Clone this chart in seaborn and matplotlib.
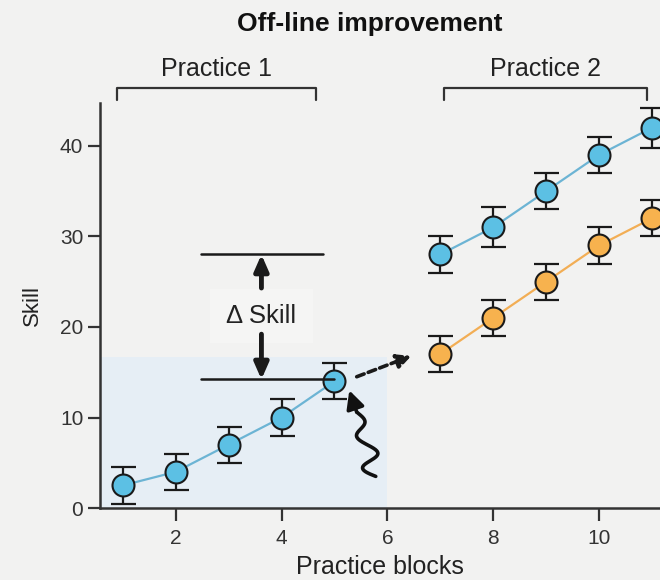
import numpy as np
import pandas as pd
import matplotlib
matplotlib.use("Agg")
import matplotlib.pyplot as plt
from matplotlib.patches import Rectangle
import seaborn as sns

# ---- data ----
blocks_p1 = [1, 2, 3, 4, 5]
skill_p1 = [2.5, 4.0, 7.0, 10.0, 14.0]
err_p1 = [2.0, 2.0, 2.0, 2.0, 2.0]

blocks_p2 = [7, 8, 9, 10, 11]
skill_p2_blue = [28.0, 31.0, 35.0, 39.0, 42.0]
err_p2_blue = [2.0, 2.2, 2.0, 2.0, 2.2]
skill_p2_orange = [17.0, 21.0, 25.0, 29.0, 32.0]
err_p2_orange = [2.0, 2.0, 2.0, 2.0, 2.0]

xticks = [2, 4, 6, 8, 10]
yticks = [0, 10, 20, 30, 40]

BLUE_FILL = "#5cc0e4"
BLUE_LINE = "#6cb4d4"
ORANGE_FILL = "#f7b24e"
ORANGE_LINE = "#f2ae55"

df = pd.concat([
    pd.DataFrame({"block": blocks_p1, "skill": skill_p1, "err": err_p1, "series": "p1"}),
    pd.DataFrame({"block": blocks_p2, "skill": skill_p2_blue, "err": err_p2_blue, "series": "p2b"}),
    pd.DataFrame({"block": blocks_p2, "skill": skill_p2_orange, "err": err_p2_orange, "series": "p2o"}),
])

sns.set_theme(style="ticks")
plt.rcParams["font.family"] = ["Liberation Sans", "DejaVu Sans"]

BG = "#f2f2f1"
fig = plt.figure(figsize=(6.6, 5.8), dpi=100, facecolor=BG)
ax = fig.add_axes([0.1515, 0.124, 0.8485, 0.698])
ax.set_facecolor(BG)

ax.set_xlim(0.57, 11.15)
ax.set_ylim(0, 44.7)

# light blue shaded practice-1 region
ax.add_patch(Rectangle((0.57, 0), 6.0 - 0.57, 16.7, facecolor="#e6eef5",
                       edgecolor="none", zorder=0))
# pale box behind delta label
ax.add_patch(Rectangle((2.65, 18.2), 1.95, 6.0, facecolor="#f5f5f4",
                       edgecolor="none", zorder=0.5))

# error bars
for s in ["p1", "p2b", "p2o"]:
    d = df[df.series == s]
    ax.errorbar(d.block, d.skill, yerr=d.err, fmt="none", ecolor="#1a1a1a",
                elinewidth=1.6, capsize=9, capthick=1.6, zorder=2)

palette = {"p1": BLUE_LINE, "p2b": BLUE_LINE, "p2o": ORANGE_LINE}
sns.lineplot(data=df, x="block", y="skill", hue="series", palette=palette,
             units="series", estimator=None, legend=False, linewidth=1.6,
             ax=ax, zorder=3)
fills = {"p1": BLUE_FILL, "p2b": BLUE_FILL, "p2o": ORANGE_FILL}
for s, fc in fills.items():
    d = df[df.series == s]
    sns.scatterplot(x=d.block, y=d.skill, color=fc, edgecolor="#1a1a1a",
                    linewidth=1.5, s=250, ax=ax, zorder=4, legend=False)

# spines / ticks
sns.despine(ax=ax, top=True, right=True)
for sp in ["left", "bottom"]:
    ax.spines[sp].set_linewidth(1.8)
    ax.spines[sp].set_color("#333333")
ax.set_xticks(xticks)
ax.set_yticks(yticks)
ax.tick_params(axis="both", direction="out", length=9, width=1.6,
               colors="#333333", labelsize=15, labelcolor="#333333", pad=3)
ax.tick_params(axis="x", pad=6)
ax.set_xlabel("Practice blocks", fontsize=18, color="#222222", labelpad=5)
ax.set_ylabel("Skill", fontsize=16, color="#222222", labelpad=12)

# delta skill annotation
ax.plot([2.48, 4.78], [28.0, 28.0], color="#1a1a1a", lw=1.8, zorder=5)
ax.plot([2.48, 5.0], [14.2, 14.2], color="#1a1a1a", lw=1.8, zorder=5)
ax.annotate("", xy=(3.62, 28.0), xytext=(3.62, 24.3),
            arrowprops=dict(arrowstyle="-|>,head_length=0.8,head_width=0.35",
                            color="#1a1a1a", lw=3.5, shrinkA=0, shrinkB=0), zorder=5)
ax.annotate("", xy=(3.62, 14.2), xytext=(3.62, 19.2),
            arrowprops=dict(arrowstyle="-|>,head_length=0.8,head_width=0.35",
                            color="#1a1a1a", lw=3.5, shrinkA=0, shrinkB=0), zorder=5)
ax.text(3.62, 21.2, "\u0394 Skill", ha="center", va="center", fontsize=18.5,
        color="#222222", zorder=6)

# dashed arrow to practice 2
ax.annotate("", xy=(6.45, 16.8), xytext=(5.42, 14.5),
            arrowprops=dict(arrowstyle="-|>,head_length=0.7,head_width=0.35",
                            color="#1a1a1a", lw=2.6, linestyle=(0, (2.2, 1.2)),
                            shrinkA=0, shrinkB=0), zorder=5)

# wavy arrow (consolidation)
t = np.linspace(0, 1, 300)
xs, xe, ys, ye = 5.78, 5.42, 3.5, 10.6
y_w = ys + (ye - ys) * t
x_w = xs + (xe - xs) * t - 0.22 * np.sin(4 * np.pi * t) * (1 - 0.6 * t)
ax.plot(x_w, y_w, color="#111111", lw=2.6, zorder=5, solid_capstyle="round")
ax.annotate("", xy=(5.28, 13.0), xytext=(xe, ye),
            arrowprops=dict(arrowstyle="-|>,head_length=0.9,head_width=0.45",
                            color="#111111", lw=2.6, shrinkA=0, shrinkB=0), zorder=5)

# brackets above plot
bcol = "#333333"
for (x0, x1, label) in [(0.9, 4.65, "Practice 1"), (7.07, 10.9, "Practice 2")]:
    ax.plot([x0, x0, x1, x1], [45.1, 46.4, 46.4, 45.1], color=bcol, lw=1.6,
            clip_on=False)
    ax.text((x0 + x1) / 2, 48.5, label, ha="center", va="center", fontsize=18,
            color="#222222", clip_on=False)

fig.text(0.56, 0.958, "Off-line improvement", ha="center", va="center",
         fontsize=19, fontweight="bold", color="#111111")

fig.savefig("out.png", dpi=100, facecolor=BG)
